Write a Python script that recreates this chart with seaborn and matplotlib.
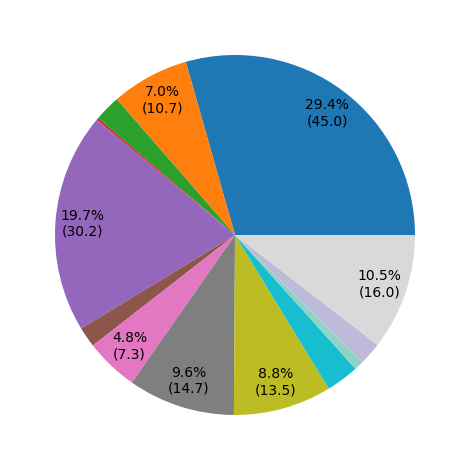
import matplotlib
matplotlib.use('Agg')
import matplotlib.pyplot as plt
import seaborn as sns
import numpy as np

# slice values, counter-clockwise from 3 o'clock
values = [45.0, 10.7, 3.6, 0.3, 30.2, 2.8, 7.3, 14.7, 13.5, 4.5, 1.3, 3.1, 16.0]

# tab10 for the first ten slices, then a few Set3 colours
tab = sns.color_palette('tab10', 10)
set3 = sns.color_palette('Set3', 12)
colors = list(tab) + [set3[0], set3[2], set3[8]]

total = sum(values)


def label_pct(p):
    # only label the bigger slices
    if p < 4:
        return ''
    return f'{p:.1f}%\n({p * total / 100:.1f})'


fig = plt.figure(figsize=(4.69, 4.70), dpi=100)
ax = fig.add_axes([10 / 469, 10 / 470, 450 / 469, 450 / 470])
ax.pie(values, colors=colors, autopct=label_pct, pctdistance=0.85,
       startangle=0, counterclock=True, textprops={'fontsize': 10})
ax.set_aspect('equal')

plt.savefig('out.png', dpi=100)
